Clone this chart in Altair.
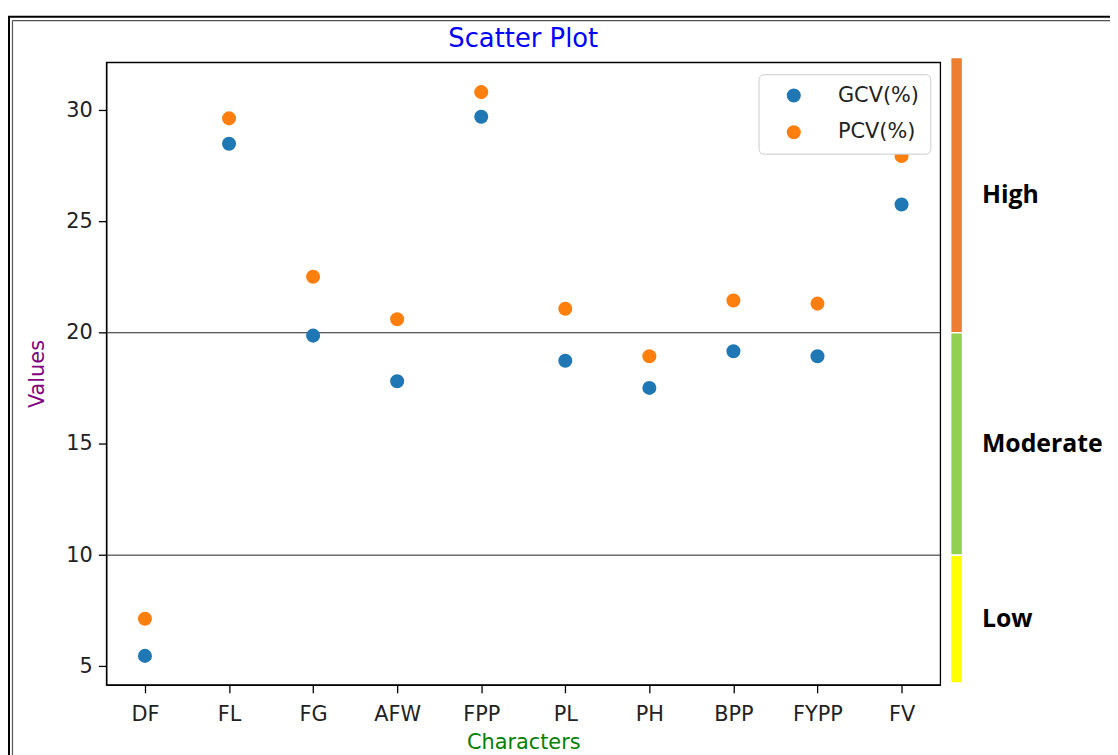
import altair as alt
import pandas as pd

# ---- data ----
characters = ["DF", "FL", "FG", "AFW", "FPP", "PL", "PH", "BPP", "FYPP", "FV"]
gcv = [5.47, 28.50, 19.87, 17.82, 29.71, 18.74, 17.52, 19.17, 18.94, 25.77]
pcv = [7.14, 29.64, 22.52, 20.61, 30.82, 21.08, 18.94, 21.45, 21.31, 27.95]
series_names = ["GCV(%)", "PCV(%)"]
series_colors = ["#1f77b4", "#ff7f0e"]
y_ticks = [5, 10, 15, 20, 25, 30]
threshold_values = [20, 10]
band_names = ["High", "Moderate", "Low"]
band_low = [20, 10, 4.25]
band_high = [32.38, 20, 10]
band_colors = ["#ED7D31", "#92D050", "#FFFF00"]
chart_title = ["Scatter Plot"]

# ---- tables ----
rows = []
for name, vals in zip(series_names, [gcv, pcv]):
    for i, (c, v) in enumerate(zip(characters, vals)):
        rows.append({"idx": i, "char": c, "series": name, "value": v})
df = pd.DataFrame(rows)

bands = pd.DataFrame({
    "name": band_names,
    "low": band_low,
    "high": band_high,
    "color": band_colors,
})
bands["mid"] = (bands["low"] + bands["high"]) / 2
thr = pd.DataFrame({"value": threshold_values})
one = pd.DataFrame({"k": [0]})
title_df = pd.DataFrame({"t": chart_title})

y_scale = alt.Scale(domain=[4.17, 32.16], nice=False, zero=False)
x_scale = alt.Scale(domain=[-0.46, 9.46], nice=False, zero=False)
label_expr = "[" + ",".join("'%s'" % c for c in characters) + "][datum.value]"
y_axis = alt.Axis(values=y_ticks, title="Values", titleColor="purple",
                  labelPadding=6, titlePadding=19)

points = alt.Chart(df).mark_circle(size=200, opacity=1).encode(
    x=alt.X("idx:Q", scale=x_scale,
            axis=alt.Axis(values=list(range(len(characters))), labelExpr=label_expr,
                          title="Characters", titleColor="green",
                          labelPadding=11, titlePadding=7)),
    y=alt.Y("value:Q", scale=y_scale, axis=y_axis),
    color=alt.Color("series:N", scale=alt.Scale(domain=series_names, range=series_colors),
                    legend=alt.Legend(title=None, orient="none", legendX=657, legendY=12,
                                      fillColor="white", strokeColor="#cccccc",
                                      cornerRadius=5, padding=11, symbolSize=200,
                                      symbolType="circle", symbolOffset=14, labelOffset=34,
                                      labelFontSize=21, labelFont="DejaVu Sans",
                                      labelColor="#222222", rowPadding=15,
                                      symbolStrokeWidth=0, symbolOpacity=1)),
)

rules = alt.Chart(thr).mark_rule(color="#222222", strokeWidth=1).encode(
    y=alt.Y("value:Q", scale=y_scale, axis=y_axis),
    x=alt.value(0), x2=alt.value(841),
)

band_rects = alt.Chart(bands).mark_rect(clip=False, stroke="white", strokeWidth=1.5).encode(
    x=alt.value(850.5), x2=alt.value(862.5),
    y=alt.Y("high:Q", scale=y_scale, axis=y_axis), y2="low:Q",
    fill=alt.Fill("color:N", scale=None),
)

band_text = alt.Chart(bands).mark_text(
    align="left", baseline="middle", font="Open Sans", fontWeight="bold",
    fontSize=25, color="black", clip=False,
).encode(
    x=alt.value(882),
    y=alt.Y("mid:Q", scale=y_scale, axis=y_axis),
    text="name:N",
)

title_text = alt.Chart(title_df).mark_text(
    align="center", baseline="alphabetic", font="DejaVu Sans", fontSize=26,
    color="blue", clip=False,
).encode(
    x=alt.value(420), y=alt.value(-15), text="t:N",
)

frame_top = alt.Chart(one).mark_rule(color="black", strokeWidth=2).encode(
    x=alt.value(-99), x2=alt.value(1100), y=alt.value(-46))
frame_left = alt.Chart(one).mark_rule(color="black", strokeWidth=2).encode(
    x=alt.value(-98), y=alt.value(-46), y2=alt.value(720))
frame_top2 = alt.Chart(one).mark_rule(color="#555555", strokeWidth=1.2).encode(
    x=alt.value(-94.5), x2=alt.value(1100), y=alt.value(-42))
frame_left2 = alt.Chart(one).mark_rule(color="#555555", strokeWidth=1.2).encode(
    x=alt.value(-94.5), y=alt.value(-42), y2=alt.value(720))

chart = alt.layer(
    rules, band_rects, band_text, points, title_text,
    frame_top, frame_left, frame_top2, frame_left2,
).properties(
    width=840, height=627,
    padding={"left": 99, "top": 52, "right": 171, "bottom": 68},
    autosize=alt.AutoSizeParams(type="none"),
).configure_view(
    stroke="black", strokeWidth=1.3,
).configure_axis(
    grid=False, domainColor="black", domainWidth=1.3, tickColor="black",
    tickWidth=1.3, tickSize=8, labelFont="DejaVu Sans", labelFontSize=21,
    labelColor="#222222", titleFont="DejaVu Sans", titleFontSize=21,
    titleFontWeight="normal",
)

chart.save("out.html", embed_options={"renderer": "svg", "actions": False})
